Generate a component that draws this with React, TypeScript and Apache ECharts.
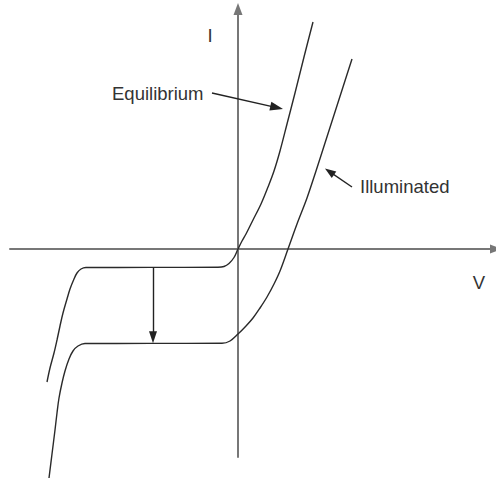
import React, { useEffect, useRef } from "react";
import * as echarts from "echarts";

// Diode I–V characteristic in the dark (equilibrium) and under illumination.
// Units are arbitrary: V on the horizontal axis, I on the vertical axis.

const equilibriumV = [
  -19.1, -18.8, -18.4, -18.1, -17.8, -17.5, -17.1, -16.8, -16.4, -16.1, -15.7, -15.2,
  -8.8, -2.0, -1.4, -0.9, -0.4, 0, 0.4, 0.8, 1.5, 2.3, 3.0, 3.6, 4.2, 4.9, 5.7, 6.6, 7.5,
];
const equilibriumI = [
  -13.3, -11.9, -10.4, -9.1, -7.7, -6.4, -5.0, -4.0, -3.0, -2.4, -2.0, -1.85,
  -1.84, -1.83, -1.75, -1.45, -0.85, 0, 0.8, 1.5, 2.9, 4.5, 6.2, 7.8, 9.8, 12.5, 15.6, 19.2, 22.7,
];

const illuminatedV = [
  -18.9, -18.6, -18.3, -18.1, -17.9, -17.6, -17.3, -16.9, -16.5, -16.0, -15.3,
  -8.8, -1.6, -0.8, 0, 0.8, 1.5, 2.2, 2.9, 3.6, 4.2, 5.0, 5.9, 6.9, 7.8, 8.7, 9.6, 10.5, 11.4,
];
const illuminatedI = [
  -22.9, -20.5, -18.1, -16.4, -14.9, -13.4, -12.2, -11.0, -10.2, -9.7, -9.45,
  -9.44, -9.43, -9.2, -8.5, -7.7, -6.9, -5.9, -4.8, -3.5, -2.2, 0, 2.5, 5.1, 7.8, 10.6, 13.4, 16.2, 19.0,
];

// Axis extents
const vRange = [-22.8, 25.8];
const iRange = [-20.8, 24.0];

// Annotation arrows: [start, end] in data units (end sits at the arrow-head centre)
const shiftArrow = [[-8.5, -1.83], [-8.5, -8.83]];
const equilibriumArrow = [[-2.6, 15.6], [3.87, 14.14]];
const illuminatedArrow = [[11.4, 6.2], [9.15, 7.74]];

const textFont = '"Liberation Sans", Arial, sans-serif';
const textColor = "#333";

function pairs(xs: number[], ys: number[]) {
  return xs.map((x, k) => [x, ys[k]]);
}

function arrow(seg: number[][], size: number[]) {
  return [
    { coord: seg[0], symbol: "none" },
    { coord: seg[1], symbol: "triangle", symbolSize: size },
  ];
}

export default function App() {
  const ref = useRef<HTMLDivElement>(null);

  useEffect(() => {
    document.body.style.margin = "0";
    const chart = echarts.init(ref.current!, null, { renderer: "svg" });

    const axisLine = {
      onZero: true,
      symbol: ["none", "triangle"],
      symbolSize: [9, 12],
      lineStyle: { color: "#777", width: 2 },
    };

    const curveStyle = { color: "#2a2a2a", width: 1.4 };

    chart.setOption({
      animation: false,
      backgroundColor: "#fff",
      grid: { left: 10, right: 0, top: 9, bottom: 26 },
      xAxis: {
        type: "value",
        min: vRange[0],
        max: vRange[1],
        axisLine,
        axisTick: { show: false },
        axisLabel: { show: false },
        splitLine: { show: false },
      },
      yAxis: {
        type: "value",
        min: iRange[0],
        max: iRange[1],
        axisLine,
        axisTick: { show: false },
        axisLabel: { show: false },
        splitLine: { show: false },
      },
      series: [
        {
          name: "Equilibrium",
          type: "line",
          data: pairs(equilibriumV, equilibriumI),
          showSymbol: false,
          smooth: 0.35,
          clip: false,
          lineStyle: curveStyle,
        },
        {
          name: "Illuminated",
          type: "line",
          data: pairs(illuminatedV, illuminatedI),
          showSymbol: false,
          smooth: 0.35,
          clip: false,
          lineStyle: curveStyle,
        },
        {
          name: "annotations",
          type: "line",
          data: [],
          markLine: {
            silent: true,
            animation: false,
            label: { show: false },
            emphasis: { disabled: true },
            lineStyle: { color: "#222", width: 1.4, type: "solid" },
            itemStyle: { color: "#111" },
            data: [
              arrow(shiftArrow, [8, 12]),
              arrow(equilibriumArrow, [9, 13]),
              arrow(illuminatedArrow, [8, 11]),
            ],
          },
        },
      ],
      graphic: [
        {
          type: "text",
          x: 210,
          y: 35.5,
          style: {
            text: "I",
            font: `18.5px ${textFont}`,
            fill: textColor,
            align: "center",
            verticalAlign: "middle",
          },
        },
        {
          type: "text",
          x: 479,
          y: 282,
          style: {
            text: "V",
            font: `18.5px ${textFont}`,
            fill: textColor,
            align: "center",
            verticalAlign: "middle",
          },
        },
        {
          type: "text",
          x: 112,
          y: 93,
          style: {
            text: "Equilibrium",
            font: `18.5px ${textFont}`,
            fill: textColor,
            align: "left",
            verticalAlign: "middle",
          },
        },
        {
          type: "text",
          x: 360,
          y: 186,
          style: {
            text: "Illuminated",
            font: `18.5px ${textFont}`,
            fill: textColor,
            align: "left",
            verticalAlign: "middle",
          },
        },
      ],
    });

    return () => chart.dispose();
  }, []);

  return <div ref={ref} style={{ width: 496, height: 483 }} />;
}
